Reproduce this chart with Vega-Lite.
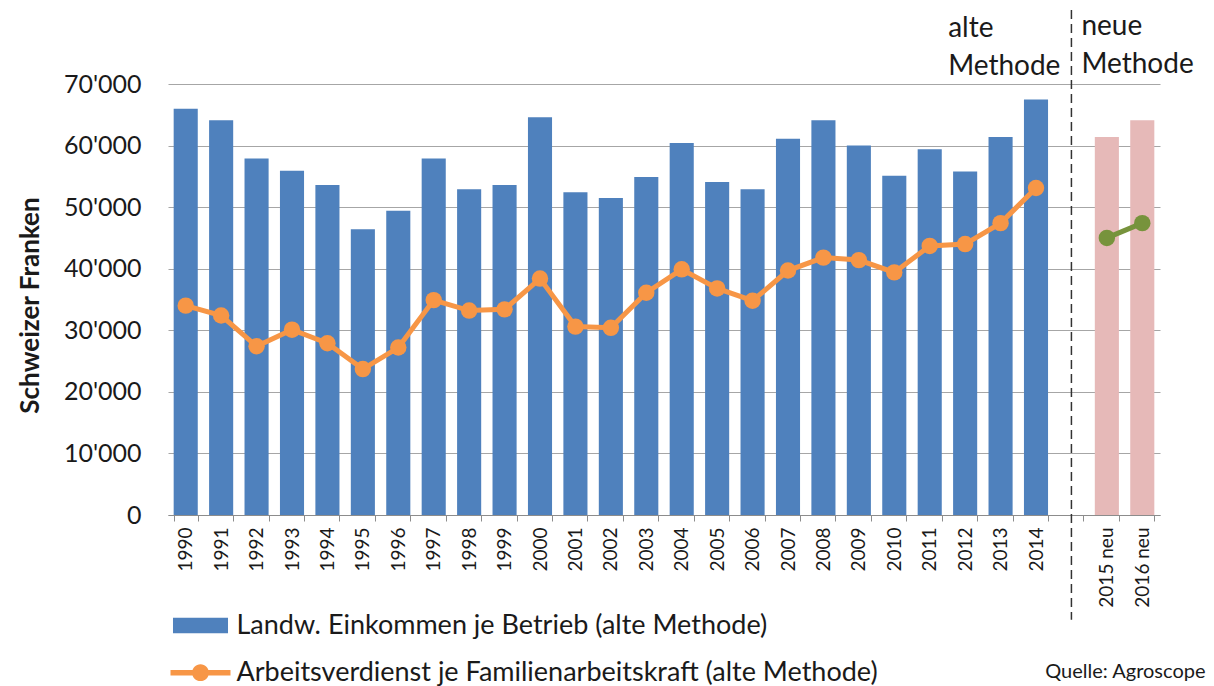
{
  "$schema": "https://vega.github.io/schema/vega-lite/v6.json",
  "width": 992,
  "height": 431,
  "autosize": {"type": "none"},
  "padding": {"left": 168, "top": 84, "right": 54, "bottom": 171},
  "background": "white",
  "config": {"font": "Lato", "view": {"stroke": null}},
  "datasets": {
    "main": [
      {"jahr": "1990", "einkommen": 66000, "verdienst": 34000, "balken": "Landw. Einkommen je Betrieb (alte Methode)", "linie": "Arbeitsverdienst je Familienarbeitskraft (alte Methode)"},
      {"jahr": "1991", "einkommen": 64100, "verdienst": 32400, "balken": "Landw. Einkommen je Betrieb (alte Methode)", "linie": "Arbeitsverdienst je Familienarbeitskraft (alte Methode)"},
      {"jahr": "1992", "einkommen": 57900, "verdienst": 27400, "balken": "Landw. Einkommen je Betrieb (alte Methode)", "linie": "Arbeitsverdienst je Familienarbeitskraft (alte Methode)"},
      {"jahr": "1993", "einkommen": 55900, "verdienst": 30100, "balken": "Landw. Einkommen je Betrieb (alte Methode)", "linie": "Arbeitsverdienst je Familienarbeitskraft (alte Methode)"},
      {"jahr": "1994", "einkommen": 53600, "verdienst": 27900, "balken": "Landw. Einkommen je Betrieb (alte Methode)", "linie": "Arbeitsverdienst je Familienarbeitskraft (alte Methode)"},
      {"jahr": "1995", "einkommen": 46400, "verdienst": 23700, "balken": "Landw. Einkommen je Betrieb (alte Methode)", "linie": "Arbeitsverdienst je Familienarbeitskraft (alte Methode)"},
      {"jahr": "1996", "einkommen": 49400, "verdienst": 27200, "balken": "Landw. Einkommen je Betrieb (alte Methode)", "linie": "Arbeitsverdienst je Familienarbeitskraft (alte Methode)"},
      {"jahr": "1997", "einkommen": 57900, "verdienst": 34900, "balken": "Landw. Einkommen je Betrieb (alte Methode)", "linie": "Arbeitsverdienst je Familienarbeitskraft (alte Methode)"},
      {"jahr": "1998", "einkommen": 52900, "verdienst": 33200, "balken": "Landw. Einkommen je Betrieb (alte Methode)", "linie": "Arbeitsverdienst je Familienarbeitskraft (alte Methode)"},
      {"jahr": "1999", "einkommen": 53600, "verdienst": 33400, "balken": "Landw. Einkommen je Betrieb (alte Methode)", "linie": "Arbeitsverdienst je Familienarbeitskraft (alte Methode)"},
      {"jahr": "2000", "einkommen": 64600, "verdienst": 38400, "balken": "Landw. Einkommen je Betrieb (alte Methode)", "linie": "Arbeitsverdienst je Familienarbeitskraft (alte Methode)"},
      {"jahr": "2001", "einkommen": 52400, "verdienst": 30600, "balken": "Landw. Einkommen je Betrieb (alte Methode)", "linie": "Arbeitsverdienst je Familienarbeitskraft (alte Methode)"},
      {"jahr": "2002", "einkommen": 51500, "verdienst": 30400, "balken": "Landw. Einkommen je Betrieb (alte Methode)", "linie": "Arbeitsverdienst je Familienarbeitskraft (alte Methode)"},
      {"jahr": "2003", "einkommen": 54900, "verdienst": 36100, "balken": "Landw. Einkommen je Betrieb (alte Methode)", "linie": "Arbeitsverdienst je Familienarbeitskraft (alte Methode)"},
      {"jahr": "2004", "einkommen": 60400, "verdienst": 39900, "balken": "Landw. Einkommen je Betrieb (alte Methode)", "linie": "Arbeitsverdienst je Familienarbeitskraft (alte Methode)"},
      {"jahr": "2005", "einkommen": 54100, "verdienst": 36800, "balken": "Landw. Einkommen je Betrieb (alte Methode)", "linie": "Arbeitsverdienst je Familienarbeitskraft (alte Methode)"},
      {"jahr": "2006", "einkommen": 52900, "verdienst": 34800, "balken": "Landw. Einkommen je Betrieb (alte Methode)", "linie": "Arbeitsverdienst je Familienarbeitskraft (alte Methode)"},
      {"jahr": "2007", "einkommen": 61100, "verdienst": 39700, "balken": "Landw. Einkommen je Betrieb (alte Methode)", "linie": "Arbeitsverdienst je Familienarbeitskraft (alte Methode)"},
      {"jahr": "2008", "einkommen": 64100, "verdienst": 41800, "balken": "Landw. Einkommen je Betrieb (alte Methode)", "linie": "Arbeitsverdienst je Familienarbeitskraft (alte Methode)"},
      {"jahr": "2009", "einkommen": 60000, "verdienst": 41400, "balken": "Landw. Einkommen je Betrieb (alte Methode)", "linie": "Arbeitsverdienst je Familienarbeitskraft (alte Methode)"},
      {"jahr": "2010", "einkommen": 55100, "verdienst": 39400, "balken": "Landw. Einkommen je Betrieb (alte Methode)", "linie": "Arbeitsverdienst je Familienarbeitskraft (alte Methode)"},
      {"jahr": "2011", "einkommen": 59400, "verdienst": 43700, "balken": "Landw. Einkommen je Betrieb (alte Methode)", "linie": "Arbeitsverdienst je Familienarbeitskraft (alte Methode)"},
      {"jahr": "2012", "einkommen": 55800, "verdienst": 44000, "balken": "Landw. Einkommen je Betrieb (alte Methode)", "linie": "Arbeitsverdienst je Familienarbeitskraft (alte Methode)"},
      {"jahr": "2013", "einkommen": 61400, "verdienst": 47400, "balken": "Landw. Einkommen je Betrieb (alte Methode)", "linie": "Arbeitsverdienst je Familienarbeitskraft (alte Methode)"},
      {"jahr": "2014", "einkommen": 67500, "verdienst": 53100, "balken": "Landw. Einkommen je Betrieb (alte Methode)", "linie": "Arbeitsverdienst je Familienarbeitskraft (alte Methode)"},
      {"jahr": "2015 neu", "einkommen": 61400, "verdienst": 45000, "balken": "Landw. Einkommen je Betrieb (neue Methode)", "linie": "Arbeitsverdienst je Familienarbeitskraft (neue Methode)"},
      {"jahr": "2016 neu", "einkommen": 64100, "verdienst": 47400, "balken": "Landw. Einkommen je Betrieb (neue Methode)", "linie": "Arbeitsverdienst je Familienarbeitskraft (neue Methode)"}
    ]
  },
  "resolve": {"scale": {"color": "independent"}, "legend": {"color": "independent"}},
  "layer": [
    {
      "data": {"name": "main"},
      "mark": {"type": "bar"},
      "encoding": {
        "x": {
          "field": "jahr", "type": "nominal", "sort": null,
          "scale": {
            "domain": ["1990","1991","1992","1993","1994","1995","1996","1997","1998","1999","2000","2001","2002","2003","2004","2005","2006","2007","2008","2009","2010","2011","2012","2013","2014","gap","2015 neu","2016 neu"],
            "paddingInner": 0.32, "paddingOuter": 0.16
          },
          "axis": {
            "title": "Quelle: Agroscope",
            "titleFontSize": 20, "titleFontWeight": "normal", "titleColor": "#1a1a1a",
            "titleX": 1037, "titleY": 156, "titleAlign": "right", "titleBaseline": "middle", "titleAngle": 0,
            "labelExpr": "datum.value == 'gap' ? '' : datum.value",
            "labelAngle": -90, "labelFontSize": 19, "labelColor": "#1a1a1a", "labelPadding": 6,
            "tickBand": "extent", "ticks": true, "tickSize": 6, "tickColor": "#8c8c8c",
            "domainColor": "#8c8c8c", "grid": false, "labelLimit": 200
          }
        },
        "y": {
          "field": "einkommen", "type": "quantitative",
          "scale": {"domain": [0, 70000], "nice": false},
          "axis": {
            "title": "Schweizer Franken",
            "titleFontSize": 26, "titleFontWeight": "bold", "titleColor": "#1a1a1a",
            "titleX": -138, "titleY": 221, "titleAlign": "center", "titleBaseline": "middle", "titleAngle": -90,
            "values": [0,10000,20000,30000,40000,50000,60000,70000],
            "labelExpr": "replace(format(datum.value, ','), ',', \"'\")",
            "labelFontSize": 25, "labelColor": "#1a1a1a", "labelPadding": 27,
            "ticks": false, "domain": false, "grid": true, "gridColor": "#a6a6a6", "gridWidth": 1.2
          }
        },
        "color": {
          "field": "balken", "type": "nominal",
          "scale": {"domain": ["Landw. Einkommen je Betrieb (alte Methode)", "Landw. Einkommen je Betrieb (neue Methode)"], "range": ["#4F81BD", "#E6B9B8"]},
          "legend": {
            "values": ["Landw. Einkommen je Betrieb (alte Methode)"],
            "orient": "none", "legendX": 2.5, "legendY": 511.5, "title": null, "padding": 0,
            "symbolType": "M-0.917,-0.26L0.917,-0.26L0.917,0.26L-0.917,0.26Z", "symbolSize": 3600, "symbolStrokeWidth": 0,
            "labelFontSize": 27, "labelColor": "#1a1a1a", "labelLimit": 1000, "labelOffset": 6
          }
        }
      }
    },
    {
      "data": {"name": "main"},
      "mark": {"type": "line", "strokeWidth": 5, "point": {"filled": true, "size": 270}},
      "encoding": {
        "x": {"field": "jahr", "type": "nominal", "sort": null},
        "y": {"field": "verdienst", "type": "quantitative"},
        "color": {
          "field": "linie", "type": "nominal",
          "scale": {"domain": ["Arbeitsverdienst je Familienarbeitskraft (alte Methode)", "Arbeitsverdienst je Familienarbeitskraft (neue Methode)"], "range": ["#F79646", "#77933C"]},
          "legend": {
            "values": ["Arbeitsverdienst je Familienarbeitskraft (alte Methode)"],
            "orient": "none", "legendX": 2.5, "legendY": 558.7, "title": null, "padding": 0,
            "symbolType": "M-1,-0.09L1,-0.09L1,0.09L-1,0.09Z M0.28,0A0.28,0.28,0,1,1,-0.28,0A0.28,0.28,0,1,1,0.28,0Z",
            "symbolSize": 3600, "symbolStrokeWidth": 0,
            "labelFontSize": 27, "labelColor": "#1a1a1a", "labelLimit": 1000, "labelOffset": 6,
            "encode": {"symbols": {"update": {"fill": {"value": "#F79646"}, "stroke": {"value": "transparent"}, "opacity": {"value": 1}}}}
          }
        }
      }
    },
    {
      "data": {"values": [{"jahr": "gap", "oben": 82000, "unten": -17000}]},
      "mark": {"type": "rule", "strokeDash": [9, 5], "color": "#333333", "strokeWidth": 1.5},
      "encoding": {
        "x": {"field": "jahr", "type": "nominal", "sort": null},
        "y": {"field": "oben", "type": "quantitative"},
        "y2": {"field": "unten"}
      }
    },
    {
      "data": {"values": [{"jahr": "2012", "pos": 77700, "notiz": "alte\nMethode"}]},
      "mark": {"type": "text", "align": "left", "baseline": "alphabetic", "fontSize": 28, "lineBreak": "\n", "lineHeight": 38, "dx": -17, "color": "#1a1a1a"},
      "encoding": {
        "x": {"field": "jahr", "type": "nominal", "sort": null},
        "y": {"field": "pos", "type": "quantitative"},
        "text": {"field": "notiz"}
      }
    },
    {
      "data": {"values": [{"jahr": "gap", "pos": 77900, "notiz": "neue\nMethode"}]},
      "mark": {"type": "text", "align": "left", "baseline": "alphabetic", "fontSize": 28, "lineBreak": "\n", "lineHeight": 38, "dx": 10, "color": "#1a1a1a"},
      "encoding": {
        "x": {"field": "jahr", "type": "nominal", "sort": null},
        "y": {"field": "pos", "type": "quantitative"},
        "text": {"field": "notiz"}
      }
    }
  ]
}
